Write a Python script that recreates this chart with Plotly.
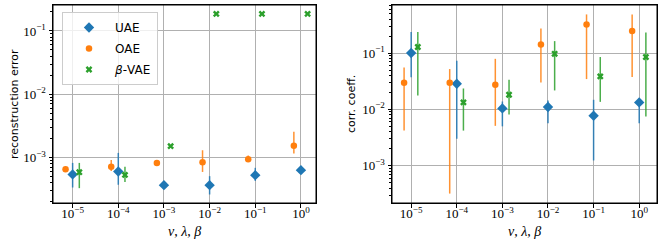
import plotly.graph_objects as go

# ---- data ----
params = [1e-5, 1e-4, 1e-3, 1e-2, 1e-1, 1e0]
tick_labels = ["10<sup>−5</sup>", "10<sup>−4</sup>", "10<sup>−3</sup>",
               "10<sup>−2</sup>", "10<sup>−1</sup>", "10<sup>0</sup>"]
y_ticks = [1e-3, 1e-2, 1e-1]
y_tick_labels = ["10<sup>−3</sup>", "10<sup>−2</sup>", "10<sup>−1</sup>"]

uae_rec = [5.4e-4, 6.0e-4, 3.65e-4, 3.65e-4, 5.25e-4, 6.3e-4]
uae_rec_lo = [3.35e-4, 3.7e-4, 3.3e-4, 2.6e-4, 4.26e-4, 5.8e-4]
uae_rec_hi = [8.2e-4, 1.18e-3, 4.0e-4, 5.06e-4, 6.85e-4, 7.0e-4]

oae_rec = [6.5e-4, 7.1e-4, 8.2e-4, 8.4e-4, 9.4e-4, 1.53e-3]
oae_rec_lo = [6.3e-4, 6.1e-4, 7.5e-4, 5.9e-4, 8.5e-4, 1.16e-3]
oae_rec_hi = [6.7e-4, 9.1e-4, 8.8e-4, 1.3e-3, 1.07e-3, 2.54e-3]

vae_rec = [5.85e-4, 5.3e-4, 1.51e-3, 0.186, 0.186, 0.186]
vae_rec_lo = [3.27e-4, 4.1e-4, 1.45e-3, 0.183, 0.183, 0.183]
vae_rec_hi = [8.2e-4, 7.1e-4, 1.57e-3, 0.189, 0.189, 0.189]

uae_cc = [0.1, 0.0285, 0.0104, 0.011, 0.0077, 0.0133]
uae_cc_lo = [0.037, 0.003, 0.005, 0.0057, 0.00124, 0.0057]
uae_cc_hi = [0.236, 0.073, 0.0138, 0.0144, 0.0148, 0.0150]

oae_cc = [0.0297, 0.0297, 0.0274, 0.142, 0.322, 0.246]
oae_cc_lo = [0.0042, 3.2e-4, 0.0051, 0.030, 0.0345, 0.0375]
oae_cc_hi = [0.0555, 0.052, 0.079, 0.274, 0.485, 0.485]

vae_cc = [0.128, 0.0133, 0.0182, 0.097, 0.0385, 0.085]
vae_cc_lo = [0.0177, 0.0042, 0.0081, 0.0217, 0.0136, 0.0075]
vae_cc_hi = [0.236, 0.0235, 0.0336, 0.163, 0.085, 0.232]

# ---- styles ----
W, H = 664, 244


def px(x):
    return x / W


def py(y):
    return 1 - y / H


BLUE, ORANGE, GREEN = "#1f77b4", "#ff7f0e", "#2ca02c"
series = [
    ("UAE", BLUE, "diamond", 8, 1.0),
    ("OAE", ORANGE, "circle", 6.5, 0.7),
    ("<i>β</i>-VAE", GREEN, "x", 6, 1.4),
]
rec_data = [(uae_rec, uae_rec_lo, uae_rec_hi), (oae_rec, oae_rec_lo, oae_rec_hi),
            (vae_rec, vae_rec_lo, vae_rec_hi)]
cc_data = [(uae_cc, uae_cc_lo, uae_cc_hi), (oae_cc, oae_cc_lo, oae_cc_hi),
           (vae_cc, vae_cc_lo, vae_cc_hi)]

minor_vals = [m * 10.0 ** e for e in range(-5, 1) for m in range(2, 10)]


def rgba(hexc, a):
    h = hexc.lstrip("#")
    return f"rgba({int(h[0:2],16)},{int(h[2:4],16)},{int(h[4:6],16)},{a})"


fig = go.Figure()
for panel, data, xa, ya in [(0, rec_data, "x", "y"), (1, cc_data, "x2", "y2")]:
    for i, ((name, col, sym, sz, shift), (y, lo, hi)) in enumerate(zip(series, data)):
        xs = [p * shift for p in params]
        fig.add_trace(go.Scatter(
            x=xs, y=y, mode="markers", name=name, legendgroup=f"g{i}",
            xaxis=xa, yaxis=ya, showlegend=(panel == 0),
            marker=dict(symbol=sym, size=sz, color=col, line=dict(width=0)),
            error_y=dict(type="data", symmetric=False,
                         array=[h - v for h, v in zip(hi, y)],
                         arrayminus=[v - l for v, l in zip(y, lo)],
                         color=rgba(col, 0.85), thickness=1.5, width=0),
        ))

GRID = "#b0b0b0"
SERIF = "Liberation Serif, DejaVu Serif, serif"
SANS = "DejaVu Sans, sans-serif"


def xaxis(dom, rng, anchor):
    return dict(type="log", domain=dom, range=rng, anchor=anchor,
                tickmode="array", tickvals=params, ticktext=tick_labels,
                ticks="outside", ticklen=3.5, tickwidth=0.8, tickcolor="black",
                ticklabelstandoff=-5,
                showgrid=True, gridcolor=GRID, gridwidth=0.8,
                showline=True, linecolor="black", linewidth=1, mirror=True,
                tickfont=dict(family=SERIF, size=13, color="black"),
                automargin=False, zeroline=False)


def yaxis(dom, rng, anchor):
    return dict(type="log", domain=dom, range=rng, anchor=anchor,
                tickmode="array", tickvals=y_ticks, ticktext=y_tick_labels,
                ticks="outside", ticklen=3.5, tickwidth=0.8, tickcolor="black",
                minor=dict(ticks="outside", ticklen=2, tickwidth=0.6,
                           tickcolor="black", tickmode="array",
                           tickvals=minor_vals, showgrid=False),
                showgrid=True, gridcolor=GRID, gridwidth=0.8,
                showline=True, linecolor="black", linewidth=1, mirror=True,
                tickfont=dict(family=SERIF, size=13, color="black"),
                automargin=False, zeroline=False)


ydom = [py(203), py(5)]
frame = dict(type="rect", x0=0, x1=1, y0=0, y1=1, line=dict(color="black", width=1),
             fillcolor="rgba(0,0,0,0)", layer="above")
fig.update_layout(
    width=W, height=H,
    margin=dict(l=0, r=0, t=0, b=0),
    paper_bgcolor="white", plot_bgcolor="white",
    xaxis=xaxis([px(53), px(316)], [-5.43, 0.33], "y"),
    yaxis=yaxis(ydom, [-3.72, -0.59], "x"),
    xaxis2=xaxis([px(392), px(657)], [-5.42, 0.39], "y2"),
    yaxis2=yaxis(ydom, [-3.662, -0.147], "x2"),
    legend=dict(x=px(62), y=py(12), xanchor="left", yanchor="top",
                bgcolor="rgba(255,255,255,0.8)", bordercolor="#cccccc",
                borderwidth=1, font=dict(family=SANS, size=12, color="black"),
                tracegroupgap=2, itemwidth=42),
    showlegend=True,
    shapes=[dict(frame, xref="x domain", yref="y domain"),
            dict(frame, xref="x2 domain", yref="y2 domain")],
    annotations=[
        dict(text="reconstruction error", x=px(14), y=py(104),
             xref="paper", yref="paper", showarrow=False, textangle=-90,
             xanchor="center", yanchor="middle",
             font=dict(family=SANS, size=11, color="black")),
        dict(text="corr. coeff.", x=px(351), y=py(104),
             xref="paper", yref="paper", showarrow=False, textangle=-90,
             xanchor="center", yanchor="middle",
             font=dict(family=SANS, size=11, color="black")),
        dict(text="<i>ν</i>, <i>λ</i>, <i>β</i>", x=px((53 + 316) / 2), y=py(231),
             xref="paper", yref="paper", showarrow=False,
             xanchor="center", yanchor="middle",
             font=dict(family=SERIF, size=14, color="black")),
        dict(text="<i>ν</i>, <i>λ</i>, <i>β</i>", x=px((392 + 657) / 2), y=py(231),
             xref="paper", yref="paper", showarrow=False,
             xanchor="center", yanchor="middle",
             font=dict(family=SERIF, size=14, color="black")),
    ],
)

fig.write_html("out.html", config={"displayModeBar": False},
               post_script="document.body.style.margin='0px';")
